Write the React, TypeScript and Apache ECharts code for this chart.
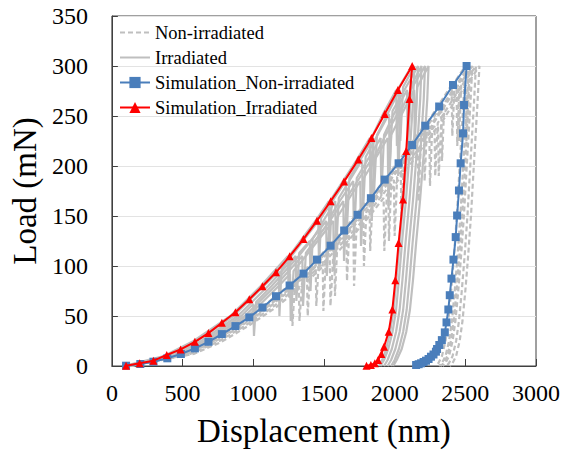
import React, { useEffect, useRef } from "react";
import * as echarts from "echarts";

// Axis ticks
const xTicks = [0, 500, 1000, 1500, 2000, 2500, 3000];
const yTicks = [0, 50, 100, 150, 200, 250, 300, 350];

const legendNames = [
  "Non-irradiated",
  "Irradiated",
  "Simulation_Non-irradiated",
  "Simulation_Irradiated",
];

// Simulation curves [displacement (nm), load (mN)]
const simNonIrradiated: number[][] = [
  [100, 0.3], [201, 2], [294, 4.3], [392, 7.7], [488, 12], [587, 17.6], [683, 24.2],
  [778, 31.9], [874, 39.9], [972, 48.6], [1065, 58.5], [1161, 69.8], [1257, 80.5],
  [1355, 92.4], [1451, 106.4], [1547, 120.3], [1643, 135.5], [1738, 151.2], [1832, 167.8],
  [1930, 186.4], [2028, 202.7], [2124, 221], [2217, 240.3], [2315, 259.5], [2413, 281],
  [2509, 300], [2491, 261], [2484, 232.6], [2467, 202.7], [2455, 175.5], [2442, 150.5],
  [2432, 128.9], [2416, 106.4], [2402, 87.4], [2390, 70.8], [2380, 56.5], [2367, 43.6],
  [2355, 33.6], [2334, 25.9], [2316, 21], [2300, 17], [2292, 14.3], [2275, 11.5],
  [2257, 9.3], [2240, 7], [2222, 5.3], [2205, 4], [2187, 2.7], [2170, 1.8], [2152, 1],
];

const simIrradiated: number[][] = [
  [100, 0.3], [196, 2.7], [294, 5.3], [388, 11], [486, 16.6], [587, 24.2], [683, 32.9],
  [778, 43.2], [874, 53.8], [972, 66.8], [1065, 79.8], [1161, 93.7], [1257, 109.7],
  [1355, 126.9], [1451, 145.3], [1547, 164.8], [1642, 184.4], [1743, 206.4], [1836, 228],
  [1930, 252], [2023, 276], [2124, 300], [2105, 267], [2082, 215], [2059, 166.5],
  [2028, 123], [2005, 85.7], [1984, 56.5], [1958, 34.2], [1925, 19.2], [1906, 12],
  [1883, 6], [1860, 2.7], [1832, 1], [1801, 0.3],
];

// Experimental curves, irradiated (solid grey)
const irr1: number[][] = [
  [110, 0], [390, 10], [600, 25], [860, 50], [1075, 80], [1180, 95], [1185, 50], [1200, 97],
  [1270, 110], [1460, 145], [1465, 100], [1480, 148], [1655, 185], [1660, 130], [1680, 188],
  [1850, 228], [1855, 175], [1875, 231], [2035, 276], [2040, 225], [2060, 279], [2140, 300],
  [2131, 267], [2110, 220], [2080, 166], [2052, 123], [2030, 86], [2010, 56], [1985, 34],
  [1955, 17], [1925, 6], [1900, 0],
];
const irr2: number[][] = [
  [95, 0], [420, 10], [630, 25], [890, 50], [1105, 80], [1300, 110], [1305, 65], [1325, 113],
  [1400, 125], [1405, 75], [1420, 127], [1580, 165], [1585, 110], [1605, 168], [1770, 206],
  [1775, 150], [1795, 209], [1960, 252], [1965, 200], [1985, 255], [2165, 300], [2156, 267],
  [2135, 220], [2105, 166], [2077, 123], [2055, 86], [2035, 56], [2010, 34], [1980, 17],
  [1950, 6], [1925, 0],
];
const irr3: number[][] = [
  [130, 0], [450, 10], [655, 25], [915, 50], [1000, 62], [1005, 30], [1020, 64], [1130, 80],
  [1322, 110], [1516, 145], [1520, 90], [1540, 148], [1612, 165], [1707, 185], [1712, 125],
  [1732, 188], [1808, 206], [1901, 228], [1906, 170], [1925, 231], [1995, 252], [2088, 276],
  [2093, 215], [2112, 279], [2190, 300], [2181, 267], [2160, 220], [2130, 166], [2102, 123],
  [2080, 86], [2060, 56], [2035, 34], [2005, 17], [1975, 6], [1950, 0],
];
const irr4: number[][] = [
  [120, 0], [470, 10], [680, 25], [940, 50], [1155, 80], [1347, 110], [1352, 60], [1372, 113],
  [1541, 145], [1637, 165], [1642, 105], [1660, 168], [1833, 206], [1838, 145], [1858, 209],
  [1926, 228], [2020, 252], [2025, 190], [2045, 255], [2113, 276], [2215, 300], [2206, 267],
  [2185, 220], [2155, 166], [2127, 123], [2105, 86], [2085, 56], [2060, 34], [2030, 17],
  [2000, 6], [1975, 0],
];
const irr5: number[][] = [
  [100, 0], [495, 10], [705, 25], [965, 50], [1180, 80], [1260, 92], [1265, 45], [1285, 95],
  [1372, 110], [1566, 145], [1571, 95], [1590, 148], [1757, 185], [1762, 120], [1782, 188],
  [1951, 228], [1956, 160], [1975, 231], [2138, 276], [2143, 225], [2160, 279], [2240, 300],
  [2231, 267], [2210, 220], [2180, 166], [2152, 123], [2130, 86], [2108, 56], [2082, 34],
  [2050, 17], [2015, 6], [1990, 0],
];
const irr6: number[][] = [
  [85, 0], [368, 10], [578, 25], [838, 50], [1053, 80], [1245, 110], [1250, 70], [1265, 112],
  [1439, 145], [1535, 165], [1540, 115], [1556, 168], [1731, 206], [1824, 228], [1829, 165],
  [1846, 231], [1918, 252], [2011, 276], [2016, 220], [2032, 279], [2120, 300], [2112, 267],
  [2092, 220], [2062, 166], [2035, 123], [2012, 86], [1992, 56], [1968, 34], [1940, 17],
  [1912, 6], [1890, 0],
];

// Experimental curves, non-irradiated (dashed grey)
const non1: number[][] = [
  [90, 0], [478, 12], [673, 24], [864, 40], [1055, 58], [1247, 80], [1441, 106], [1446, 60],
  [1465, 109], [1633, 135], [1822, 168], [1827, 115], [1846, 171], [2018, 203], [2207, 240],
  [2212, 185], [2230, 243], [2403, 281], [2408, 230], [2425, 284], [2500, 300], [2485, 260],
  [2460, 200], [2440, 150], [2420, 110], [2400, 75], [2380, 45], [2360, 25], [2335, 10],
  [2310, 3], [2290, 0],
];
const non2: number[][] = [
  [115, 0], [503, 12], [698, 24], [889, 40], [1080, 58], [1272, 80], [1277, 40], [1295, 83],
  [1466, 106], [1658, 135], [1663, 85], [1680, 138], [1847, 168], [2043, 203], [2048, 150],
  [2066, 206], [2139, 221], [2330, 260], [2335, 205], [2352, 263], [2525, 300], [2510, 260],
  [2485, 200], [2465, 150], [2445, 110], [2425, 75], [2405, 45], [2385, 25], [2360, 10],
  [2335, 3], [2315, 0],
];
const non3: number[][] = [
  [140, 0], [528, 12], [723, 24], [914, 40], [1105, 58], [1297, 80], [1491, 106], [1496, 55],
  [1514, 109], [1683, 135], [1778, 151], [1783, 100], [1800, 154], [1970, 186], [2164, 221],
  [2169, 165], [2186, 224], [2355, 260], [2450, 281], [2455, 225], [2472, 284], [2550, 300],
  [2535, 260], [2510, 200], [2490, 150], [2470, 110], [2450, 75], [2430, 45], [2410, 25],
  [2385, 10], [2360, 3], [2340, 0],
];
const non4: number[][] = [
  [105, 0], [553, 12], [748, 24], [939, 40], [1130, 58], [1322, 80], [1327, 45], [1345, 83],
  [1516, 106], [1708, 135], [1713, 80], [1730, 138], [1897, 168], [1995, 186], [2000, 130],
  [2018, 189], [2189, 221], [2282, 240], [2287, 190], [2305, 243], [2478, 281], [2575, 300],
  [2560, 260], [2535, 200], [2515, 150], [2495, 110], [2475, 75], [2455, 45], [2435, 25],
  [2410, 10], [2385, 3], [2365, 0],
];
const non5: number[][] = [
  [125, 0], [578, 12], [773, 24], [964, 40], [1155, 58], [1347, 80], [1541, 106], [1546, 60],
  [1565, 109], [1733, 135], [1828, 151], [1922, 168], [1927, 115], [1945, 171], [2118, 203],
  [2307, 240], [2312, 190], [2330, 243], [2405, 260], [2503, 281], [2508, 225], [2525, 284],
  [2600, 300], [2585, 260], [2560, 200], [2540, 150], [2520, 110], [2500, 75], [2480, 45],
  [2460, 25], [2435, 10], [2410, 3], [2390, 0],
];
const non6: number[][] = [
  [110, 0], [513, 12], [708, 24], [899, 40], [1090, 58], [1282, 80], [1380, 92], [1385, 50],
  [1402, 95], [1573, 120], [1578, 70], [1595, 123], [1763, 151], [1955, 186], [1960, 125],
  [1977, 189], [2149, 221], [2245, 240], [2250, 180], [2267, 243], [2438, 281], [2443, 220],
  [2460, 284], [2535, 300], [2522, 260], [2498, 200], [2478, 150], [2458, 110], [2438, 75],
  [2418, 45], [2398, 25], [2373, 10], [2348, 3], [2325, 0],
];

const nonIrradiatedCurves = [non1, non2, non3, non4, non5, non6];
const irradiatedCurves = [irr1, irr2, irr3, irr4, irr5, irr6];

const FONT = "Liberation Serif";
const GREY = "#bfbfbf";

export default function App() {
  const ref = useRef<HTMLDivElement>(null);

  useEffect(() => {
    if (!ref.current) return;
    const chart = echarts.init(ref.current, null, { renderer: "svg" });

    const greySeries: any[] = [];
    nonIrradiatedCurves.forEach((d) =>
      greySeries.push({
        name: legendNames[0],
        type: "line",
        data: d,
        symbol: "none",
        showSymbol: false,
        lineStyle: { color: GREY, width: 2.2, type: [5, 3] },
        itemStyle: { color: GREY },
        z: 2,
      })
    );
    irradiatedCurves.forEach((d) =>
      greySeries.push({
        name: legendNames[1],
        type: "line",
        data: d,
        symbol: "none",
        showSymbol: false,
        lineStyle: { color: GREY, width: 2.2, type: "solid" },
        itemStyle: { color: GREY },
        z: 2,
      })
    );

    chart.setOption({
      animation: false,
      backgroundColor: "#ffffff",
      textStyle: { fontFamily: FONT },
      grid: {
        left: 108,
        right: 27,
        top: 16,
        bottom: 90,
        show: true,
        borderColor: "#404040",
        borderWidth: 1,
        backgroundColor: "transparent",
      },
      legend: {
        data: [
          { name: legendNames[0], itemStyle: { opacity: 0 } },
          { name: legendNames[1], itemStyle: { opacity: 0 } },
          { name: legendNames[2] },
          { name: legendNames[3] },
        ],
        orient: "vertical",
        left: 114,
        top: 18,
        itemWidth: 30,
        itemHeight: 14,
        itemGap: 6,
        textStyle: { fontFamily: FONT, fontSize: 18.5, color: "#000", lineHeight: 17 },
      },
      xAxis: {
        type: "value",
        min: xTicks[0],
        max: xTicks[xTicks.length - 1],
        interval: 500,
        name: "Displacement (nm)",
        nameLocation: "middle",
        nameGap: 48,
        nameTextStyle: { fontFamily: FONT, fontSize: 33, color: "#000" },
        axisLine: { show: true, lineStyle: { color: "#404040", width: 1 } },
        axisTick: { show: true, inside: true, length: 7, lineStyle: { color: "#404040" } },
        axisLabel: {
          fontFamily: FONT,
          fontSize: 24,
          color: "#000",
          margin: 15,
          formatter: (v: number) => String(v),
        },
        splitLine: { show: false },
      },
      yAxis: {
        type: "value",
        min: yTicks[0],
        max: yTicks[yTicks.length - 1],
        interval: 50,
        name: "Load (mN)",
        nameLocation: "middle",
        nameGap: 61,
        nameTextStyle: { fontFamily: FONT, fontSize: 33, color: "#000" },
        axisLine: { show: true, lineStyle: { color: "#404040", width: 1 } },
        axisTick: { show: true, inside: true, length: 6, lineStyle: { color: "#404040" } },
        axisLabel: {
          fontFamily: FONT,
          fontSize: 24,
          color: "#000",
          margin: 24,
          formatter: (v: number) => String(v),
        },
        splitLine: { show: true, lineStyle: { color: "#e3e3e3", width: 1 } },
      },
      series: [
        ...greySeries,
        {
          name: legendNames[2],
          type: "line",
          data: simNonIrradiated,
          symbol: "rect",
          symbolSize: 8,
          lineStyle: { color: "#4a7ebb", width: 2 },
          itemStyle: { color: "#4a7ebb" },
          z: 3,
        },
        {
          name: legendNames[3],
          type: "line",
          data: simIrradiated,
          symbol: "triangle",
          symbolSize: 8,
          lineStyle: { color: "#ff0000", width: 2 },
          itemStyle: { color: "#ff0000" },
          z: 4,
        },
      ],
    });

    return () => chart.dispose();
  }, []);

  return (
    <div
      ref={ref}
      style={{ position: "fixed", left: 0, top: 0, width: 563, height: 456, background: "#fff" }}
    />
  );
}
